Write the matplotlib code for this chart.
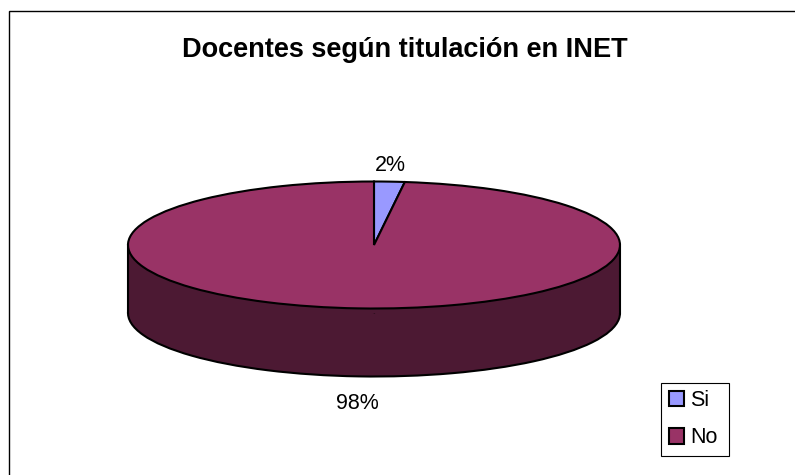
import matplotlib
matplotlib.use("Agg")
import matplotlib.pyplot as plt
from matplotlib.lines import Line2D
from matplotlib.patches import Patch, Rectangle

title = "Docentes según titulación en INET"
labels = ["Si", "No"]
values = [2, 98]
pct_labels = ["2%", "98%"]
top_colors = ["#9999FF", "#993366"]
side_colors = ["#4C1933", "#4C1933"]

W, H = 795, 475
cx, cy = 374, 245      # centre of pie top, pixels
rx, ry = 246, 63.5     # ellipse radii
depth = 68 / ry

plt.rcParams["font.family"] = ["Liberation Sans", "DejaVu Sans"]

fig = plt.figure(figsize=(W / 100, H / 100), dpi=100, facecolor="white")
ax = fig.add_axes([0, 0, 1, 1])

edge = dict(edgecolor="black", linewidth=1.5)

# side of the pie: a lowered copy plus a band up to the top face
ax.pie(values, colors=side_colors, startangle=90, counterclock=False,
       center=(0, -depth), wedgeprops=edge)
ax.add_patch(Rectangle((-1, -depth), 2, depth, facecolor=side_colors[1], edgecolor="none"))
ax.plot([-1, -1], [-depth, 0], color="black", lw=1.5)
ax.plot([1, 1], [-depth, 0], color="black", lw=1.5)

# top face
ax.pie(values, colors=top_colors, startangle=90, counterclock=False,
       center=(0, 0), wedgeprops=edge)

ax.set_aspect("auto")
ax.set_xlim(-cx / rx, (W - cx) / rx)
ax.set_ylim((cy - H) / ry, cy / ry)
ax.axis("off")

# chart border, only the left and top sides are in the image
fig.add_artist(Line2D([8.5 / W, 8.5 / W, 1], [0, 1 - 10.8 / H, 1 - 10.8 / H],
                      color="black", linewidth=1.0, solid_joinstyle="miter"))

fig.text(405 / W, 1 - 57 / H, title, fontsize=19.5, fontweight="bold", ha="center", va="baseline")
fig.text(390 / W, 1 - 171 / H, pct_labels[0], fontsize=15.5, ha="center", va="baseline")
fig.text(357 / W, 1 - 409 / H, pct_labels[1], fontsize=15.5, ha="center", va="baseline")

handles = [Patch(facecolor=c, edgecolor="black", linewidth=1.5) for c in top_colors]
leg = ax.legend(handles, labels, loc="lower left", mode="expand",
                bbox_to_anchor=(661 / W, 1 - 456 / H, 68 / W, 73 / H),
                bbox_transform=fig.transFigure, fontsize=15.5, fancybox=False, framealpha=1,
                edgecolor="black", handlelength=0.72, handleheight=0.72, handletextpad=0.3,
                labelspacing=0.75, borderpad=0.35, borderaxespad=0)
leg.get_frame().set_linewidth(0.8)

fig.savefig("out.png", dpi=100)
